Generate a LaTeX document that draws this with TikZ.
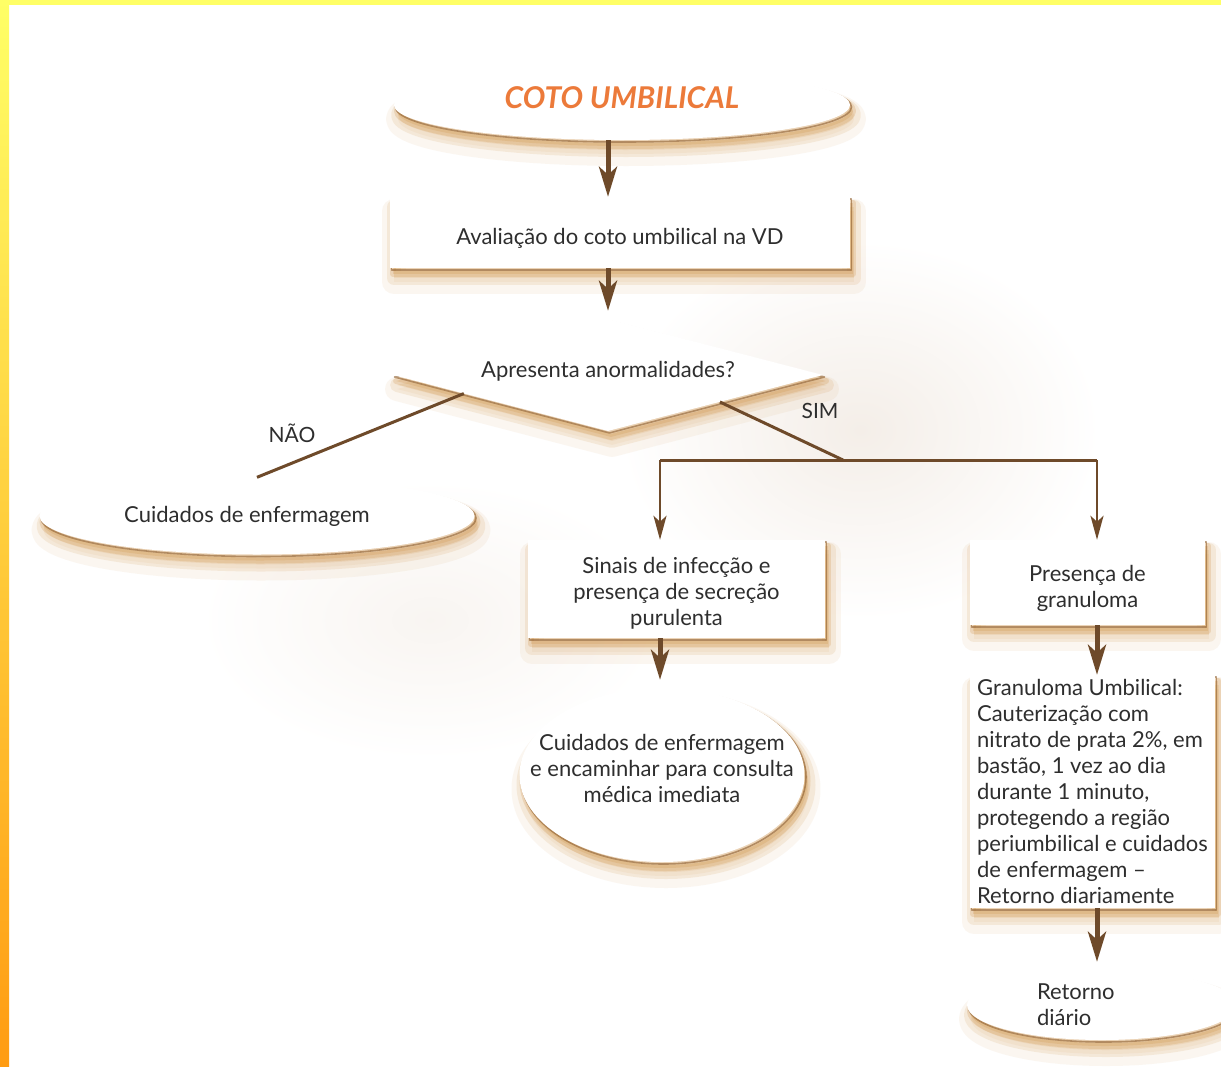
\documentclass[tikz,border=0pt]{standalone}
\usepackage{fontspec}
\setmainfont{Lato}
\usetikzlibrary{shapes.geometric,arrows.meta,calc}

\definecolor{shadowtan}{HTML}{D0944A}
\definecolor{shadowdark}{HTML}{8E5E2E}
\definecolor{arrowbrown}{HTML}{6E4A2A}
\definecolor{titleorange}{HTML}{EC7A3A}
\definecolor{txt}{HTML}{2E2E2E}
\definecolor{bartop}{HTML}{FFFF66}
\definecolor{barbottom}{HTML}{FF9C12}
\definecolor{photo}{HTML}{F4EEE8}

\tikzset{
  softshadow/.style={
    preaction={fill=shadowtan, fill opacity=0.08, draw=shadowtan, draw opacity=0.08,
      line width=24pt, line join=round, transform canvas={shift={(4pt,-14pt)}}},
    preaction={fill=shadowtan, fill opacity=0.14, draw=shadowtan, draw opacity=0.14,
      line width=14pt, line join=round, transform canvas={shift={(4pt,-10pt)}}},
    preaction={fill=shadowtan, fill opacity=0.24, draw=shadowtan, draw opacity=0.24,
      line width=6pt, line join=round, transform canvas={shift={(3pt,-6pt)}}},
    preaction={draw=shadowdark, draw opacity=0.6, line width=1.6pt, line join=round,
      transform canvas={shift={(1.5pt,-2pt)}}},
  },
  bodytext/.style={text=txt, font=\fontsize{22}{26}\selectfont, align=center, inner sep=0pt},
  flowbox/.style={softshadow, rectangle, fill=white, bodytext},
  flowoval/.style={softshadow, ellipse, fill=white, bodytext},
  flowdiamond/.style={softshadow, diamond, shape aspect=4, fill=white, bodytext},
  mainarrow/.style={draw=arrowbrown, line width=5pt,
    -{Stealth[width=18pt,length=30pt,inset=8pt]}},
  brancharrow/.style={draw=arrowbrown, line width=2.6pt,
    -{Stealth[width=13pt,length=24pt,inset=6pt]}},
  branchline/.style={draw=arrowbrown, line width=3pt},
  answer/.style={text=txt, font=\fontsize{21}{24}\selectfont, inner sep=0pt},
}

\begin{document}
\begin{tikzpicture}[x=1pt,y=-1pt]
\useasboundingbox (0,0) rectangle (1221,1066);
\fill[white] (0,0) rectangle (1221,1066);

% faint photographic backdrop
\shade[inner color=photo, outer color=white] (860,430) ellipse [x radius=240, y radius=190];
\shade[inner color=photo!60, outer color=white] (430,620) ellipse [x radius=230, y radius=140];

% frame bars
\fill[bartop] (0,0) rectangle (1221,5);
\shade[top color=bartop, bottom color=barbottom] (0,0) rectangle (9,1066);

% nodes
\node[flowoval, minimum width=456pt, minimum height=70pt, text depth=16pt, text height=22pt,
      text=titleorange, font=\fontsize{30}{32}\selectfont\bfseries\itshape]
      (title) at (622,105) {COTO UMBILICAL};
\node[flowbox, minimum width=460pt, minimum height=71pt, text height=24pt, text depth=0pt]
      (eval) at (620,232.5) {Avaliação do coto umbilical na VD};
\node[flowdiamond, minimum width=430pt, minimum height=112pt, text depth=12pt]
      (ask) at (608,375) {Apresenta anormalidades?};
\node[flowoval, minimum width=435pt, minimum height=77pt, inner xsep=-10pt]
      (care) at (257,516) {Cuidados de enfermagem\hspace*{20pt}};
\node[flowbox, minimum width=297pt, minimum height=98pt] (infect) at (676.5,589)
      {\\[-2pt]Sinais de infecção e\\presença de secreção\\purulenta};
\node[flowbox, minimum width=235pt, minimum height=85pt] (gran) at (1087.5,582.5)
      {\\[2pt]Presença de\\granuloma};
\node[flowoval, minimum width=285pt, minimum height=174pt, inner xsep=-40pt,
      text depth=14pt] (refer) at (662,775)
      {Cuidados de enfermagem\\e encaminhar para consulta\\médica imediata};
\node[flowbox, minimum width=245pt, minimum height=233pt, align=left] (treat) at (1092.5,791.5)
      {Granuloma Umbilical:\\Cauterização com\\nitrato de prata 2\%, em\\bastão, 1 vez ao dia\\durante 1 minuto,\\protegendo a região\\periumbilical e cuidados\\de enfermagem –\\Retorno diariamente};
\node[flowoval, minimum width=270pt, minimum height=70pt, text width=130pt, align=left]
      (back) at (1102,1005) {Retorno\\diário};

\node[answer] (no) at (292,433) {NÃO};
\node[answer] (yes) at (820,411) {SIM};

% junctions of the SIM branch
\coordinate (jmid) at (843,460);
\coordinate (jl) at (660,460);
\coordinate (jr) at (1097,460);

% connectors
\draw[mainarrow] (title.south -| ask) -- (eval.north -| ask);
\draw[mainarrow] (eval.south -| ask) -- ($(ask.north)+(0,-8)$);
\draw[branchline] ($(ask.west)!0.33!(ask.south)$) -- (care.north);
\draw[branchline] ($(ask.south)!0.52!(ask.east)$) -- (jmid);
\draw[branchline] (jl) -- (jr);
\draw[brancharrow] (jl) -- (jl |- infect.north);
\draw[brancharrow] (jr) -- (jr |- gran.north);
\draw[mainarrow] (infect.south -| jl) -- ($(refer.north -| jl)+(0,-8)$);
\draw[mainarrow] (gran.south -| jr) -- (treat.north -| jr);
\draw[mainarrow] (treat.south -| jr) -- ($(back.north -| jr)+(0,-8)$);
\end{tikzpicture}
\end{document}
